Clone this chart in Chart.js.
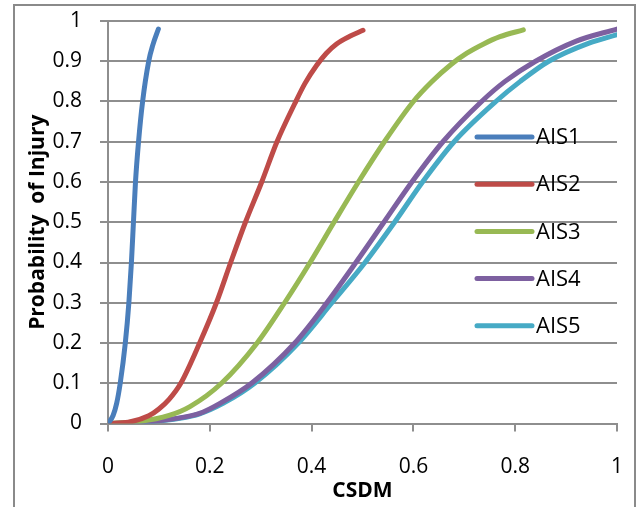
<!DOCTYPE html>
<html>
<head>
<meta charset="utf-8">
<script src="https://cdn.jsdelivr.net/npm/chart.js@4.4.1/dist/chart.umd.min.js"></script>
<style>
  html, body { margin: 0; padding: 0; background: #fff; }
  #wrap { width: 641px; height: 507px; }
</style>
</head>
<body>
<div id="wrap"><canvas id="lineChart" width="641" height="507"></canvas></div>
<script>
// Datos (CSDM vs probabilidad de lesion)
const seriesNames = ['AIS1', 'AIS2', 'AIS3', 'AIS4', 'AIS5'];

const ais1X = [0, 0.010, 0.017, 0.024, 0.034, 0.041, 0.046, 0.050, 0.054, 0.060, 0.068, 0.080, 0.088, 0.099];
const ais1Y = [0, 0.02, 0.05, 0.1, 0.2, 0.3, 0.4, 0.5, 0.6, 0.7, 0.8, 0.9, 0.94, 0.98];

const ais2X = [0, 0.04, 0.08, 0.10, 0.12, 0.143, 0.18, 0.213, 0.241, 0.27, 0.302, 0.332, 0.367, 0.387, 0.41, 0.429, 0.449, 0.475, 0.501];
const ais2Y = [0, 0.003, 0.019, 0.036, 0.06, 0.1, 0.2, 0.3, 0.4, 0.5, 0.6, 0.7, 0.795, 0.845, 0.89, 0.92, 0.943, 0.962, 0.977];

const ais3X = [0, 0.062, 0.12, 0.161, 0.223, 0.293, 0.347, 0.397, 0.444, 0.492, 0.543, 0.600, 0.636, 0.674, 0.705, 0.738, 0.77, 0.816];
const ais3Y = [0, 0.005, 0.02, 0.042, 0.1, 0.2, 0.3, 0.4, 0.5, 0.6, 0.7, 0.8, 0.849, 0.892, 0.92, 0.943, 0.961, 0.978];

const ais4X = [0, 0.07, 0.141, 0.18, 0.22, 0.282, 0.367, 0.43, 0.487, 0.542, 0.597, 0.658, 0.734, 0.78, 0.84, 0.92, 1.0];
const ais4Y = [0, 0.003, 0.014, 0.025, 0.05, 0.1, 0.2, 0.3, 0.4, 0.5, 0.6, 0.7, 0.8, 0.85, 0.9, 0.95, 0.98];

const ais5X = [0, 0.07, 0.141, 0.18, 0.226, 0.288, 0.374, 0.44, 0.505, 0.563, 0.618, 0.680, 0.762, 0.81, 0.866, 0.945, 1.0];
const ais5Y = [0, 0.003, 0.013, 0.024, 0.05, 0.1, 0.2, 0.3, 0.4, 0.5, 0.6, 0.7, 0.8, 0.85, 0.9, 0.945, 0.966];

const seriesColors = ['#4a7ebb', '#be4b48', '#98b954', '#7d60a0', '#46aac5'];

function toPoints(xs, ys) {
    return xs.map((x, i) => ({ x: x, y: ys[i] }));
}

const allX = [ais1X, ais2X, ais3X, ais4X, ais5X];
const allY = [ais1Y, ais2Y, ais3Y, ais4Y, ais5Y];

const gridColor = '#8e8e8e';
const fontFamily = '"Open Sans", "DejaVu Sans", sans-serif';

// Etiquetas como en Excel: 0, 0.2, ..., 1
function formatTick(value) {
    return String(Math.round(value * 10) / 10);
}

// Quitar el relleno extra que Chart.js agrega por las etiquetas
function fixScale(scale, prop, size) {
    scale[prop] = size;
    scale.paddingTop = 0;
    scale.paddingBottom = 0;
    scale.paddingLeft = 0;
    scale.paddingRight = 0;
}

// Marco exterior gris (como en Excel)
const framePlugin = {
    id: 'frame',
    beforeDraw(chart) {
        const c = chart.ctx;
        c.save();
        c.fillStyle = '#fff';
        c.fillRect(0, 0, chart.width, chart.height);
        c.strokeStyle = '#8a8a8a';
        c.lineWidth = 2;
        c.beginPath();
        c.moveTo(14, chart.height + 2);
        c.lineTo(14, 5);
        c.lineTo(635, 5);
        c.lineTo(635, chart.height + 2);
        c.stroke();
        c.restore();
    }
};

// Leyenda dentro del area del grafico, a la derecha
const legendPlugin = {
    id: 'insideLegend',
    afterDraw(chart) {
        const c = chart.ctx;
        const x0 = 477, x1 = 532, top = 137, step = 47.2;
        c.save();
        c.font = '22px ' + fontFamily;
        c.textBaseline = 'middle';
        c.textAlign = 'left';
        chart.data.datasets.forEach((ds, i) => {
            const y = top + i * step;
            c.strokeStyle = ds.borderColor;
            c.lineWidth = 5;
            c.lineCap = 'round';
            c.beginPath();
            c.moveTo(x0, y);
            c.lineTo(x1, y);
            c.stroke();
            c.fillStyle = '#000';
            c.fillText(ds.label, x1 + 4, y + 1);
        });
        c.restore();
    }
};

const ctx = document.getElementById('lineChart').getContext('2d');

window.lineChart = new Chart(ctx, {
    type: 'scatter',
    data: {
        datasets: seriesNames.map((name, i) => ({
            label: name,
            data: toPoints(allX[i], allY[i]),
            borderColor: seriesColors[i],
            backgroundColor: seriesColors[i],
            borderWidth: 5,
            borderCapStyle: 'round',
            borderJoinStyle: 'round',
            showLine: true,
            fill: false,
            pointRadius: 0,
            cubicInterpolationMode: 'monotone'
        }))
    },
    options: {
        responsive: false,
        animation: false,
        layout: {
            padding: { left: 0, top: 21, right: 24, bottom: 0 }
        },
        plugins: {
            legend: { display: false },
            tooltip: { enabled: false }
        },
        scales: {
            x: {
                type: 'linear',
                min: 0,
                max: 1,
                afterFit: function(scale) { fixScale(scale, 'height', 83.5); },
                ticks: {
                    stepSize: 0.2,
                    color: '#000',
                    padding: 23,
                    callback: formatTick,
                    font: { family: fontFamily, size: 21 }
                },
                grid: {
                    drawOnChartArea: false,
                    drawTicks: true,
                    tickLength: 8,
                    color: gridColor,
                    lineWidth: 2
                },
                border: { display: true, color: gridColor, width: 2 },
                title: {
                    display: true,
                    text: 'CSDM',
                    color: '#000',
                    padding: { top: 0, bottom: 3 },
                    font: { family: fontFamily, size: 21, weight: 'bold' }
                }
            },
            y: {
                min: 0,
                max: 1,
                afterFit: function(scale) { fixScale(scale, 'width', 108); },
                ticks: {
                    stepSize: 0.1,
                    color: '#000',
                    padding: 18,
                    callback: formatTick,
                    font: { family: fontFamily, size: 21 }
                },
                grid: {
                    drawOnChartArea: true,
                    drawTicks: true,
                    tickLength: 8,
                    color: gridColor,
                    lineWidth: 2
                },
                border: { display: true, color: gridColor, width: 2 },
                title: {
                    display: true,
                    text: 'Probability  of Injury',
                    color: '#000',
                    padding: { top: 25, bottom: 0 },
                    font: { family: fontFamily, size: 21, weight: 'bold' }
                }
            }
        }
    },
    plugins: [framePlugin, legendPlugin]
});
</script>
</body>
</html>
